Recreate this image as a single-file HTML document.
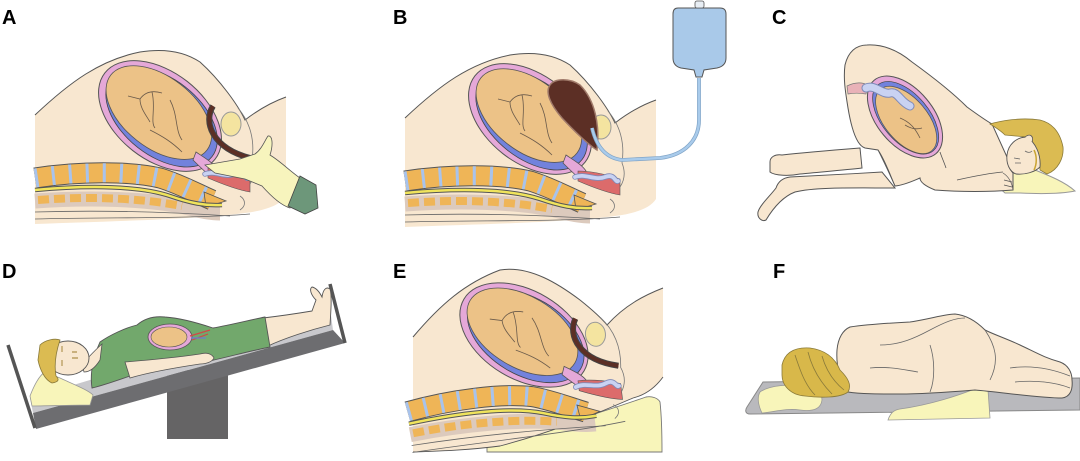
<!DOCTYPE html>
<html><head><meta charset="utf-8"><style>
html,body{margin:0;padding:0;background:#fff;}
svg{display:block;}
text{font-family:"Liberation Sans",sans-serif;font-weight:bold;font-size:20px;fill:#000;}
</style></head><body>
<svg width="1080" height="461" viewBox="0 0 1080 461" xmlns="http://www.w3.org/2000/svg">
<defs>
<g id="sagbody">
  <path d="M35,115 C 70,82 100,60 140,52 C 165,48 185,52 200,62 C 220,80 238,105 245,120 C 258,110 272,102 286,97 L 286,196 C 280,206 262,211 245,213 C 200,219 120,221 35,224 Z" fill="#f8e7d0"/>
  <path d="M35,115 C 70,82 100,60 140,52 C 165,48 185,52 200,62 C 220,80 238,105 245,120 C 258,110 272,102 286,97" fill="none" stroke="#555" stroke-width="1"/>
</g>
<g id="saginner">
  <path d="M35,201 C 90,197 150,199 185,207 C 200,211 210,213 220,213" stroke="#dccabd" stroke-width="15" fill="none"/>
  <path d="M38,200 C 90,196 140,198 182,206" stroke="#efb557" stroke-width="8" stroke-dasharray="11 5" fill="none"/>
  <path d="M35,178 C 80,171 130,171 160,178 C 180,184 198,194 212,200" fill="none" stroke="#555" stroke-width="21"/>
  <path d="M35,178 C 80,171 130,171 160,178 C 180,184 198,194 212,200" fill="none" stroke="#efb557" stroke-width="19"/>
  <path d="M35,178 C 80,171 130,171 160,178 C 180,184 198,194 212,200" fill="none" stroke="#a8c3ec" stroke-width="19" stroke-dasharray="3 14"/>
  <polygon points="204,192 226,201 206,207" fill="#efb557" stroke="#555" stroke-width="0.8"/>
  <path d="M35,190 C 90,185 140,186 170,196 C 190,203 205,206 222,205" stroke="#555" stroke-width="4.5" fill="none"/>
  <path d="M35,190 C 90,185 140,186 170,196 C 190,203 205,206 222,205" stroke="#f0e45c" stroke-width="2.5" fill="none"/>
  <path d="M35,212 C 100,210 170,212 230,216" stroke="#666" stroke-width="0.8" fill="none"/>
  <path d="M35,219 C 110,217 190,219 250,214" stroke="#666" stroke-width="0.8" fill="none"/>
  <g transform="rotate(38 160 116)">
    <ellipse cx="160" cy="116" rx="70" ry="44" fill="#e5a8d8" stroke="#555"/>
    <ellipse cx="162" cy="116" rx="64" ry="38.5" fill="#7282dc" stroke="#444" stroke-width="0.8"/>
    <ellipse cx="157" cy="114" rx="61" ry="35.5" fill="#ecc287" stroke="#555" stroke-width="0.8"/>
  </g>
  <path d="M128,96 L140,99 C 145,92 152,90 162,93 M152,92 C 156,108 150,122 155,128 M170,100 C 178,115 175,130 182,140 M150,130 C 162,136 172,142 182,152 M140,99 C 140,108 146,115 150,122" stroke="#6a5a4a" stroke-width="0.8" fill="none"/>
  <path d="M196,152 C 205,158 212,162 216,168 L 210,176 C 203,170 198,165 193,160 Z" fill="#e5a8d8" stroke="#555" stroke-width="0.8"/>
  <path d="M208,168 C 222,168 238,172 250,176 L 250,192 C 238,190 222,184 208,178 Z" fill="#dc6b6b" stroke="#555" stroke-width="0.6"/>
  <path d="M205,174 C 215,170 225,178 235,174 S 245,180 248,178" stroke="#7f8ab8" stroke-width="5.5" fill="none" stroke-linecap="round"/>
  <path d="M205,174 C 215,170 225,178 235,174 S 245,180 248,178" stroke="#c9d2f2" stroke-width="3.8" fill="none" stroke-linecap="round"/>
  <ellipse cx="231" cy="124" rx="10" ry="12" fill="#f4e4a0" stroke="#999"/>
  <path d="M238,108 C 250,122 255,140 252,160 C 256,170 254,178 250,184 M240,196 C 246,200 246,206 240,210" stroke="#777" stroke-width="0.8" fill="none"/>
</g>
</defs>

<!-- Panel A -->
<use href="#sagbody"/>
<use href="#saginner"/>
<path d="M213,106 C 203,122 212,148 250,158" stroke="#444" stroke-width="6" fill="none"/>
<path d="M213,106 C 203,122 212,148 250,158" stroke="#5c2f25" stroke-width="4" fill="none"/>
<path d="M205,165 L 240,159 L 255,154 C 262,149 265,140 268,136 C 273,135 273,146 270,155 C 280,161 290,171 300,178 L 290,208 C 280,205 270,195 262,186 L 245,179 L 215,173 Z" fill="#f7f4bd" stroke="#555" stroke-width="0.8"/>
<path d="M300,176 L 316,185 L 318,208 L 305,214 L 288,206 Z" fill="#6d977a" stroke="#444" stroke-width="0.8"/>
<text x="2" y="24">A</text>

<!-- Panel B -->
<g transform="translate(370,3)">
<use href="#sagbody"/>
<use href="#saginner"/>
</g>
<path d="M550,85 C 555,78 570,78 580,85 C 595,100 600,125 597,150 C 590,146 575,132 562,118 C 550,104 545,92 550,85 Z" fill="#5c2f25" stroke="#a07a6a" stroke-width="1.5"/>
<path d="M592,128 C 596,145 605,158 622,160 L 660,158 C 685,155 699,140 699,120 L 699,78" stroke="#7fa3c6" stroke-width="3.8" fill="none"/>
<path d="M592,128 C 596,145 605,158 622,160 L 660,158 C 685,155 699,140 699,120 L 699,78" stroke="#a9cbeb" stroke-width="2.4" fill="none"/>
<path d="M678,8 L 720,8 Q 726,8 726,14 L 726,58 Q 726,66 717,68 L 704,70 L 702,77 L 696,77 L 694,70 L 681,68 Q 673,66 673,58 L 673,14 Q 673,8 678,8 Z" fill="#a9c9e9" stroke="#555" stroke-width="1"/>
<rect x="695" y="1" width="9" height="7" rx="2" fill="#e8eef4" stroke="#555" stroke-width="0.8"/>
<text x="393" y="24">B</text>

<!-- Panel C -->
<path d="M987,167 C 1000,162 1020,165 1035,170 C 1050,176 1065,182 1075,191 C 1060,194 1040,194 1020,193 L 1005,193 C 995,185 990,175 987,167 Z" fill="#f8f5ba" stroke="#999" stroke-width="1"/>
<path d="M860,148 C 835,150 800,153 782,155 C 775,154 770,157 770,162 L 770,172 C 775,176 790,176 800,174 C 820,172 845,170 862,168 Z" fill="#f8e7d0" stroke="#555" stroke-width="1"/>
<path d="M882,172 C 850,174 810,176 790,177 C 782,178 778,182 776,188 C 770,196 760,205 758,212 C 757,218 762,222 766,220 C 772,210 782,197 795,192 C 815,187 850,188 895,188 Z" fill="#f8e7d0" stroke="#555" stroke-width="1"/>
<path d="M845,65 C 848,52 856,45 867,45 C 885,44 900,52 912,62 C 930,75 950,90 967,107 C 978,115 985,120 992,124 L 1007,157 C 1008,165 1010,170 1013,173 L 1013,190 C 990,192 960,192 935,190 C 925,186 920,182 920,178 C 915,180 905,185 895,186 C 890,175 885,160 878,150 L 865,148 C 855,145 850,120 848,108 C 846,95 843,80 845,65 Z" fill="#f8e7d0" stroke="#555" stroke-width="1"/>
<path d="M957,180 C 975,176 990,173 1003,172 M940,152 C 942,158 944,162 946,168 M878,150 C 884,162 890,175 895,186" stroke="#555" stroke-width="0.8" fill="none"/>
<path d="M1003,173 C 1008,176 1012,182 1013,190 M1004,180 L 1012,182 M1004,185 L 1012,187" stroke="#555" stroke-width="0.7" fill="none"/>
<path d="M990,124 C 1000,121 1020,117 1040,120 C 1052,123 1060,132 1063,147 C 1064,158 1058,170 1047,174 L 1040,170 C 1040,155 1035,142 1027,137 L 1005,135 C 1000,130 995,127 990,124 Z" fill="#dbbb52" stroke="#8a7a3a" stroke-width="0.8"/>
<path d="M1027,137 C 1016,137 1008,145 1007,155 C 1006,164 1010,172 1016,174 C 1025,175 1035,172 1040,167 C 1041,155 1036,143 1027,137 Z" fill="#f8e7d0" stroke="#555" stroke-width="0.9"/>
<path d="M1025,137 C 1030,133 1034,136 1032,142" fill="#f8e7d0" stroke="#555" stroke-width="0.8"/>
<path d="M1034,150 C 1037,156 1037,164 1034,170" stroke="#c9a432" stroke-width="1.5" fill="none"/>
<path d="M1014,158 L 1020,159 M1015,163 L 1021,163 M1025,151 C 1028,153 1030,153 1032,151" stroke="#666" stroke-width="0.8" fill="none"/>
<path d="M847,86 C 855,82 862,82 868,85 L 866,94 C 860,93 853,93 848,94 Z" fill="#e9b2b8" stroke="#777" stroke-width="0.7"/>
<g transform="rotate(50 905 117)">
  <ellipse cx="905" cy="117" rx="48" ry="28" fill="#e5a8d8" stroke="#555"/>
  <ellipse cx="906" cy="117" rx="43" ry="23.5" fill="#7282dc" stroke="#444" stroke-width="0.7"/>
  <ellipse cx="908" cy="118" rx="40" ry="21.5" fill="#ecc287" stroke="#555" stroke-width="0.7"/>
</g>
<path d="M866,88 C 875,84 882,95 890,93 S 900,102 910,106" stroke="#7f8ab8" stroke-width="9" fill="none" stroke-linecap="round"/>
<path d="M866,88 C 875,84 882,95 890,93 S 900,102 910,106" stroke="#c9d2f2" stroke-width="7" fill="none" stroke-linecap="round"/>
<path d="M900,118 C 910,122 915,128 920,138 M905,125 C 910,128 915,130 922,128" stroke="#6a5a4a" stroke-width="0.8" fill="none"/>
<text x="772" y="24">C</text>

<!-- Panel D -->
<rect x="167" y="370" width="61" height="69" fill="#656465"/>
<polygon points="30,398 330,308 333,330 33,413" fill="#c8c8cc"/>
<polygon points="33,413 333,330 345,343 36,429" fill="#6d6d70"/>
<line x1="8" y1="345" x2="35" y2="428" stroke="#555" stroke-width="3.5"/>
<line x1="330" y1="284" x2="345" y2="343" stroke="#555" stroke-width="3.5"/>
<path d="M30,396 C 35,383 40,375 45,372 L 60,378 C 75,385 88,390 93,395 L 90,405 C 70,405 45,406 32,406 Z" fill="#f8f5ba" stroke="#999" stroke-width="0.8"/>
<path d="M263,318 C 280,316 300,313 312,311 L 316,300 C 311,295 309,289 312,287 C 317,288 320,293 322,297 C 323,290 326,286 330,289 C 332,295 331,310 330,325 C 310,330 285,338 268,346 Z" fill="#f8e7d0" stroke="#555" stroke-width="0.9"/>
<path d="M100,342 C 110,335 125,328 137,325 C 145,318 155,316 165,317 C 180,318 195,322 213,328 C 230,325 250,320 265,317 L 270,347 C 245,352 225,358 200,363 C 175,368 150,372 133,375 C 118,380 105,385 92,388 C 90,375 92,360 100,342 Z" fill="#72a86c" stroke="#555" stroke-width="0.9"/>
<path d="M125,362 C 150,360 180,357 200,354 C 207,352 212,354 214,358 C 212,362 206,364 200,364 C 180,367 150,372 130,378 Z" fill="#f8e7d0" stroke="#555" stroke-width="0.8"/>
<path d="M82,364 C 88,358 95,350 102,344 L 100,360 C 95,368 90,372 84,372 Z" fill="#f8e7d0" stroke="#555" stroke-width="0.8"/>
<ellipse cx="68" cy="358" rx="21" ry="17" fill="#f8e7d0" stroke="#555" stroke-width="0.9"/>
<path d="M40,345 C 45,340 55,338 60,340 C 56,352 54,365 56,376 C 60,380 58,382 52,383 C 45,380 40,370 38,360 Z" fill="#dbbb52" stroke="#8a7a3a" stroke-width="0.8"/>
<path d="M62,346 L 62,352 M62,360 L 62,366 M72,352 L 77,352 M72,358 L 78,358" stroke="#9a7a2a" stroke-width="0.9"/>
<ellipse cx="170" cy="337" rx="22" ry="13" fill="#e5a8d8" stroke="#555" stroke-width="0.8"/>
<ellipse cx="169" cy="337" rx="18" ry="10" fill="#ecc287" stroke="#555" stroke-width="0.6"/>
<path d="M190,336 L 210,330 M192,340 L 208,334" stroke="#d04848" stroke-width="1.2"/>
<path d="M191,338 L 206,338" stroke="#6a7ad8" stroke-width="1.2"/>
<text x="2" y="278">D</text>

<!-- Panel E -->
<path d="M487,452 L 487,446 C 540,431 600,413 646,397 C 652,396 658,398 660,402 C 662,420 662,440 662,452 Z" fill="#f8f5ba" stroke="#777" stroke-width="0.9"/>
<path d="M413,337 C 440,305 465,283 500,270 C 530,265 560,285 580,300 C 595,312 603,320 607,325 C 625,305 645,295 663,288 L 663,377 C 655,388 645,395 633,398 C 600,412 560,430 500,446 C 470,450 440,451 413,452 Z" fill="#f8e7d0"/>
<path d="M413,337 C 440,305 465,283 500,270 C 530,265 560,285 580,300 C 595,312 603,320 607,325 C 625,305 645,295 663,288" fill="none" stroke="#555" stroke-width="1"/>
<path d="M663,377 C 655,388 645,395 633,398 C 600,412 560,430 500,446 C 470,450 440,451 413,452" fill="none" stroke="#555" stroke-width="0.9"/>
<g transform="translate(364,219) rotate(-7 160 116)">
<use href="#saginner"/>
<path d="M213,106 C 203,122 212,148 250,158" stroke="#444" stroke-width="6" fill="none"/>
<path d="M213,106 C 203,122 212,148 250,158" stroke="#5c2f25" stroke-width="4" fill="none"/>
</g>
<text x="393" y="278">E</text>

<!-- Panel F -->
<path d="M763,382 L 1080,378 L 1080,410 L 750,414 C 745,414 745,410 747,407 Z" fill="#b9b9bd" stroke="#888" stroke-width="1"/>
<path d="M760,392 C 770,385 790,384 805,386 C 815,387 822,392 822,400 C 821,408 815,412 800,410 C 785,408 775,412 762,413 C 758,405 757,397 760,392 Z" fill="#f8f5ba" stroke="#999" stroke-width="0.8"/>
<path d="M888,420 C 890,414 893,410 900,409 C 930,405 960,395 977,388 L 988,390 L 990,418 Z" fill="#f8f5ba" stroke="#999" stroke-width="0.8"/>
<path d="M837,350 C 838,338 843,330 850,327 C 870,324 890,323 910,322 C 930,319 945,314 955,314 C 965,315 975,320 985,330 C 995,335 1005,338 1020,345 C 1035,352 1045,358 1060,362 C 1068,365 1072,372 1072,380 C 1073,390 1070,397 1062,398 C 1040,398 1000,392 975,390 C 950,392 925,394 900,394 C 880,394 860,394 848,392 C 840,385 836,365 837,350 Z" fill="#f8e7d0" stroke="#555" stroke-width="1"/>
<path d="M930,345 C 935,360 935,380 930,392 M985,330 C 995,345 1000,360 990,380 M1010,368 C 1030,365 1050,368 1070,376 M1015,382 C 1035,380 1055,382 1070,388 M880,345 C 900,345 915,338 930,330 C 945,322 955,318 965,318 M870,368 C 890,366 905,370 918,372" stroke="#666" stroke-width="0.8" fill="none"/>
<path d="M782,365 C 785,352 795,347 810,348 C 825,350 835,358 840,370 C 848,378 852,385 848,392 C 840,398 820,398 805,396 C 790,395 782,385 782,375 Z" fill="#d8b84a" stroke="#8a7a3a" stroke-width="0.8"/>
<path d="M795,355 C 800,370 805,385 815,395 M808,352 C 812,368 820,382 832,394 M822,356 C 826,370 834,382 844,390" stroke="#8a7a3a" stroke-width="0.8" fill="none"/>
<text x="773" y="278">F</text>
</svg>
</body></html>
